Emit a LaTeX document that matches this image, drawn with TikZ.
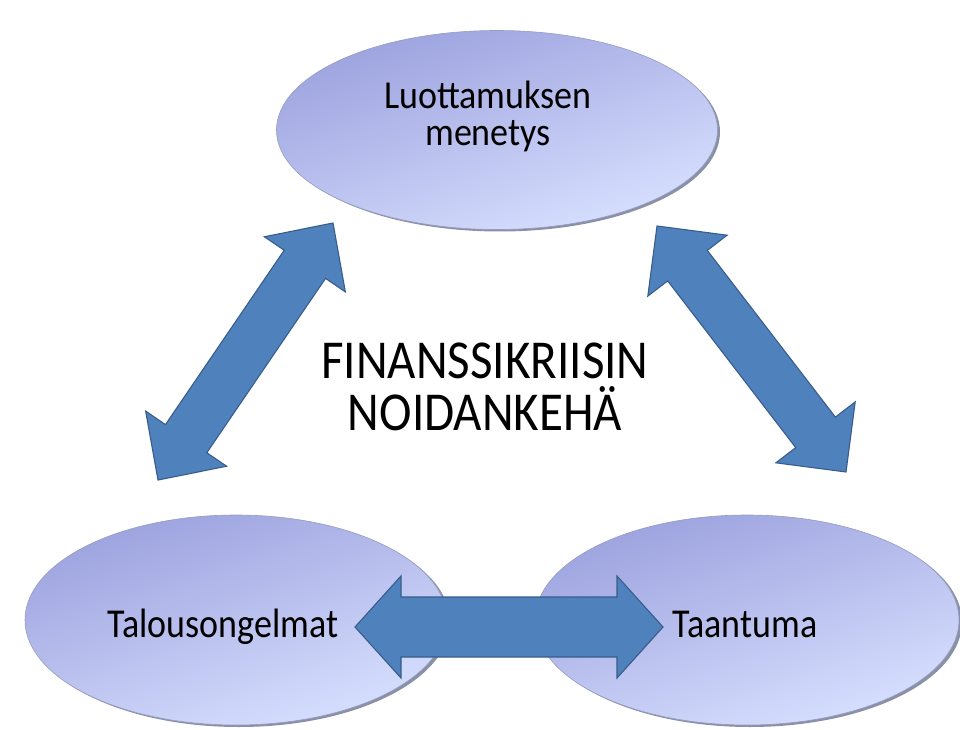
\documentclass[tikz,border=0pt]{standalone}
\usepackage{fontspec}
\setmainfont{Carlito}
\usetikzlibrary{calc,shapes.geometric}
\definecolor{elldark}{RGB}{156,162,222}
\definecolor{elllight}{RGB}{216,224,255}
\definecolor{arrfill}{RGB}{79,129,189}
\definecolor{arrline}{RGB}{56,93,138}
\definecolor{rimcol}{RGB}{138,144,166}
\definecolor{edgecol}{RGB}{150,156,190}
\tikzset{
  ellnode/.style={ellipse, inner sep=0pt, draw=edgecol, line width=0.6pt,
    top color=elldark, bottom color=elllight, shading angle=18},
  rimnode/.style={ellipse, inner sep=0pt, fill=rimcol, draw=none},
  blockarrow/.style={fill=arrfill, draw=arrline, line width=1.1pt, line join=miter},
  smalllbl/.style={anchor=base, inner sep=0pt, font=\fontsize{36}{36}\selectfont},
  biglbl/.style={anchor=base, inner sep=0pt, font=\fontsize{49}{49}\selectfont},
}
% #1 prefix, #2 tip a, #3 tip b, #4 head length, #5 head half width, #6 shaft half width
\newcommand\dblblockarrow[6]{%
  \coordinate (#1P) at ($(#2)!#4!(#3)$);
  \coordinate (#1Q) at ($(#3)!#4!(#2)$);
  \draw[blockarrow] (#2)
    -- ($(#1P)!#5!90:(#3)$) -- ($(#1P)!#6!90:(#3)$)
    -- ($(#1Q)!#6!-90:(#2)$) -- ($(#1Q)!#5!-90:(#2)$)
    -- (#3)
    -- ($(#1Q)!#5!90:(#2)$) -- ($(#1Q)!#6!90:(#2)$)
    -- ($(#1P)!#6!-90:(#3)$) -- ($(#1P)!#5!-90:(#3)$)
    -- cycle;
}
\begin{document}
\begin{tikzpicture}[x=1pt,y=1pt]
\useasboundingbox (0,0) rectangle (960,729);
% rims (shadow-like bevel)
\node[rimnode, minimum width=440pt, minimum height=199pt] (toprim) at (500,597) {};
\node[rimnode, minimum width=422pt, minimum height=210pt] (leftrim) at (239,107) {};
\node[rimnode, minimum width=424pt, minimum height=210pt] (rightrim) at (750,107) {};
% ellipses
\node[ellnode, minimum width=441pt, minimum height=199pt] (top) at (497,599) {};
\node[ellnode, minimum width=422pt, minimum height=210pt] (left) at (236,109) {};
\node[ellnode, minimum width=424pt, minimum height=210pt] (right) at (747,109) {};
% arrow tips
\coordinate (la) at (158,249);
\coordinate (lb) at (333,506);
\coordinate (ra) at (657,503);
\coordinate (rb) at (846,257);
\coordinate (ha) at (355,102);
\coordinate (hb) at (663,102);
\dblblockarrow{l}{la}{lb}{50pt}{49pt}{25pt}
\dblblockarrow{r}{ra}{rb}{50pt}{50pt}{25pt}
\dblblockarrow{h}{ha}{hb}{46pt}{51pt}{30pt}
% labels
\node[smalllbl] (t1) at (488,620) {\scalebox{1}[1.1]{Luottamuksen}};
\node[smalllbl] (t2) at (488,583) {\scalebox{1}[1.1]{menetys}};
\node[smalllbl] (t3) at (223,92) {\scalebox{1}[1.14]{Talousongelmat}};
\node[smalllbl] (t4) at (745,92) {\scalebox{1}[1.14]{Taantuma}};
\node[biglbl] (c1) at (485,351) {\scalebox{1}[1.12]{FINANSSIKRIISIN}};
\node[biglbl] (c2) at (485,299) {\scalebox{1}[1.12]{NOIDANKEHÄ}};
\end{tikzpicture}
\end{document}
